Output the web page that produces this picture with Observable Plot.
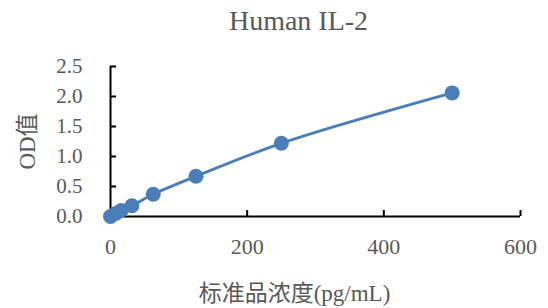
<!DOCTYPE html>
<html><head><meta charset="utf-8">
<script src="https://cdn.jsdelivr.net/npm/d3@7"></script>
<script src="https://cdn.jsdelivr.net/npm/@observablehq/plot@0.6"></script>
<style>body{margin:0;background:#fff}</style>
</head><body><div id="chart"></div>
<script>
const conc = [0, 7.8, 15.6, 31.25, 62.5, 125, 250, 500];
const od = [0.00, 0.05, 0.10, 0.18, 0.37, 0.67, 1.22, 2.06];
const xTicks = [0, 200, 400, 600];
const yTicks = [0, 0.5, 1.0, 1.5, 2.0, 2.5];
const title = "Human IL-2";
const xLabel = "标准品浓度(pg/mL)";
const yLabel = "OD值";

const data = conc.map((c, i) => ({c, v: od[i]}));
const W = 548, H = 308, mL = 110, mR = 28, mT = 66, mB = 92;
const fw = W - mL - mR, fh = H - mT - mB;
const blue = "#4a7ebb", gray = "#595959";
const font = "'Liberation Serif','Times New Roman','Noto Sans CJK SC',serif";

const chart = Plot.plot({
  width: W, height: H,
  marginLeft: mL, marginRight: mR, marginTop: mT, marginBottom: mB,
  style: {fontFamily: font, color: gray, background: "#fff"},
  x: {domain: [0, 600], axis: null},
  y: {domain: [0, 2.5], axis: null},
  marks: [
    Plot.axisY({ticks: [], tickSize: 0, label: yLabel, labelAnchor: "center", labelArrow: "none", labelOffset: 92, fontSize: 23, color: gray}),
    Plot.ruleX([0], {stroke: "#000", strokeWidth: 2}),
    Plot.ruleY([0], {stroke: "#000", strokeWidth: 2}),
    Plot.tickY(yTicks, {y: d => d, insetRight: fw - 6, stroke: "#000", strokeWidth: 2}),
    Plot.tickX(xTicks, {x: d => d, insetTop: fh - 6, stroke: "#000", strokeWidth: 2}),
    Plot.text(yTicks, {y: d => d, text: d => d.toFixed(1), frameAnchor: "left", lineAnchor: "middle", dx: -28, textAnchor: "end", fontSize: 21, fill: gray}),
    Plot.text(xTicks, {x: d => d, text: d => String(d), frameAnchor: "bottom", lineAnchor: "middle", dy: 30, fontSize: 22, fill: gray}),
    Plot.line(data, {x: "c", y: "v", curve: "catmull-rom", stroke: blue, strokeWidth: 2.8}),
    Plot.dot(data, {x: "c", y: "v", r: 7.5, fill: blue, stroke: "none"}),
    Plot.text([title], {frameAnchor: "top", lineAnchor: "middle", textAnchor: "middle", dx: -17, dy: -45, fontSize: 28, fill: gray}),
    Plot.text([xLabel], {frameAnchor: "bottom", lineAnchor: "middle", textAnchor: "middle", dx: -21, dy: 77, fontSize: 23, fill: gray})
  ]
});
document.getElementById("chart").appendChild(chart);
</script></body></html>
